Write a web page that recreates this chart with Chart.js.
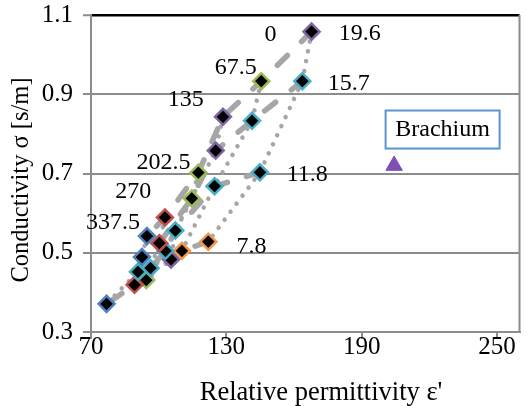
<!DOCTYPE html>
<html><head><meta charset="utf-8">
<script src="https://cdn.jsdelivr.net/npm/chart.js@4.4.0/dist/chart.umd.min.js"></script>
<style>html,body{margin:0;padding:0;background:#fff}#wrap{width:530px;height:406px;position:relative}</style>
</head><body><div id="wrap"><canvas id="c"></canvas></div>
<script>
// ---- data ----
const angles = ['0', '67.5', '135', '202.5', '270', '337.5'];
const frequencies = ['19.6', '15.7', '11.8', '7.8'];
const permittivity196 = [167.8, 145.5, 128.5, 117.6, 102.8, 94.8];
const conductivity196 = [1.058, 0.933, 0.843, 0.702, 0.589, 0.542];
const permittivity157 = [163.7, 141.4, 125.3, 114.7, 100.3, 92.6];
const conductivity157 = [0.933, 0.833, 0.758, 0.637, 0.524, 0.489];
const permittivity118 = [144.9, 124.8, 107.4, 103.0, 96.4, 90.8];
const conductivity118 = [0.703, 0.668, 0.556, 0.505, 0.461, 0.452];
const permittivity78 = [122.0, 110.3, 105.5, 94.5, 89.3, 76.9];
const conductivity78 = [0.528, 0.505, 0.483, 0.431, 0.419, 0.371];
const brachiumPermittivity = [204.4];
const brachiumConductivity = [0.720];
const xTicks = [70, 130, 190, 250];
const yTicks = [0.3, 0.5, 0.7, 0.9, 1.1];
// label anchors (data units)
const angleLabelX = [149.6, 134.2, 112.0, 102.1, 88.7, 79.8];
const angleLabelY = [1.051, 0.966, 0.887, 0.727, 0.655, 0.576];
const freqLabelX = [189.2, 184.3, 165.9, 141.2];
const freqLabelY = [1.053, 0.926, 0.697, 0.516];
const brachiumLabel = 'Brachium';
const brachiumLabelX = [225.9];
const brachiumLabelY = [0.811];

// ---- styles ----
const C = {blue:'#4F81BD', red:'#C0504D', green:'#9BBB59', purple:'#8064A2', cyan:'#4BACC6', orange:'#F79646'};
const rowColors = [
  [C.purple, C.green, C.purple, C.green, C.red, C.blue],
  [C.cyan, C.cyan, C.purple, C.green, C.red, C.blue],
  [C.cyan, C.cyan, C.cyan, C.cyan, C.cyan, C.cyan],
  [C.orange, C.orange, C.purple, C.green, C.red, C.blue]
];
const rowsX = [permittivity196, permittivity157, permittivity118, permittivity78];
const rowsY = [conductivity196, conductivity157, conductivity118, conductivity78];
const GRAY = '#A6A6A6';
const AXIS = '#8C8C8C';
const SERIF = '"Liberation Serif", "Times New Roman", serif';

const datasets = [];
rowsX.forEach((xs, r) => {
  datasets.push({
    label: frequencies[r],
    data: xs.map((x, i) => ({x, y: rowsY[r][i]})),
    showLine: false, pointStyle: 'rectRot', pointRadius: 8, pointBorderWidth: 2.5,
    pointBackgroundColor: '#000', pointBorderColor: rowColors[r], order: 0
  });
});
datasets.push({
  label: 'Brachium',
  data: brachiumPermittivity.map((x, i) => ({x, y: brachiumConductivity[i]})),
  showLine: false, pointStyle: 'triangle', pointRadius: 9.5, pointBorderWidth: 1,
  pointBackgroundColor: '#7E4FB5', pointBorderColor: '#7E4FB5', order: 0
});
rowsX.forEach((xs, r) => {
  datasets.push({
    label: 'f' + frequencies[r],
    data: xs.map((x, i) => ({x, y: rowsY[r][i]})),
    showLine: true, pointRadius: 0, borderColor: GRAY, borderWidth: 5.5,
    borderDash: [14, 20], borderCapStyle: 'round', borderJoinStyle: 'round', tension: 0, order: 1
  });
});
angles.forEach((a, j) => {
  datasets.push({
    label: 'a' + a,
    data: rowsX.map((xs, r) => ({x: xs[j], y: rowsY[r][j]})),
    showLine: true, pointRadius: 0, borderColor: GRAY, borderWidth: 4.5,
    borderDash: [0.001, 10], borderCapStyle: 'round', tension: 0, order: 1
  });
});

const annot = {
  id: 'annot',
  afterDatasetsDraw(chart) {
    const {ctx, scales: {x, y}, chartArea} = chart;
    ctx.save();
    ctx.strokeStyle = AXIS; ctx.lineWidth = 2;
    ctx.beginPath(); ctx.moveTo(chartArea.right, chartArea.top); ctx.lineTo(chartArea.right, chartArea.bottom); ctx.stroke();
    ctx.fillStyle = '#000';
    ctx.font = '24px ' + SERIF;
    ctx.textAlign = 'center'; ctx.textBaseline = 'middle';
    angles.forEach((a, i) => ctx.fillText(a, x.getPixelForValue(angleLabelX[i]), y.getPixelForValue(angleLabelY[i])));
    frequencies.forEach((f, i) => ctx.fillText(f, x.getPixelForValue(freqLabelX[i]), y.getPixelForValue(freqLabelY[i])));
    const bx = x.getPixelForValue(brachiumLabelX[0]), by = y.getPixelForValue(brachiumLabelY[0]);
    ctx.fillStyle = '#fff';
    ctx.fillRect(bx - 57, by - 19, 114, 38);
    ctx.strokeStyle = '#5A95D2'; ctx.lineWidth = 2;
    ctx.strokeRect(bx - 57, by - 19, 114, 38);
    ctx.fillStyle = '#000';
    ctx.fillText(brachiumLabel, bx, by);
    ctx.font = '26.5px ' + SERIF;
    ctx.fillText("Relative permittivity ε'", 321, 393);
    ctx.font = '24.5px ' + SERIF;
    ctx.translate(22, 180); ctx.rotate(-Math.PI / 2);
    ctx.fillText('Conductivity σ [s/m]', 0, 0);
    ctx.restore();
  }
};

new Chart(document.getElementById('c'), {
  type: 'scatter',
  data: {datasets},
  options: {
    responsive: true, maintainAspectRatio: false, animation: false, devicePixelRatio: 1,
    layout: {padding: {left: 0, top: 15, right: 7, bottom: 0}},
    plugins: {legend: {display: false}, tooltip: {enabled: false}},
    scales: {
      x: {
        type: 'linear', min: 70, max: 260,
        afterBuildTicks: s => { s.ticks = xTicks.map(v => ({value: v})); },
        afterFit: s => { s.height = 74; },
        ticks: {font: {family: SERIF, size: 25, lineHeight: 1}, color: '#000', padding: -4, callback: v => String(v), maxRotation: 0},
        grid: {drawOnChartArea: false, drawTicks: true, tickLength: 7, color: AXIS, lineWidth: 2},
        border: {color: AXIS, width: 2}
      },
      y: {
        min: 0.3, max: 1.1,
        afterBuildTicks: s => { s.ticks = yTicks.map(v => ({value: v})); },
        afterFit: s => { s.width = 91; s.paddingTop = 0; s.paddingBottom = 0; },
        ticks: {font: {family: SERIF, size: 25, lineHeight: 0.4}, color: '#000', padding: 10, callback: v => Number(v).toFixed(1)},
        grid: {
          color: c => (c.tick && c.tick.value > 1.09) ? '#000' : AXIS,
          lineWidth: c => (c.tick && c.tick.value > 1.09) ? 2.5 : 2,
          tickColor: AXIS, tickLength: 8, tickWidth: 2
        },
        border: {color: AXIS, width: 2}
      }
    }
  },
  plugins: [annot]
});
</script>
</body></html>
